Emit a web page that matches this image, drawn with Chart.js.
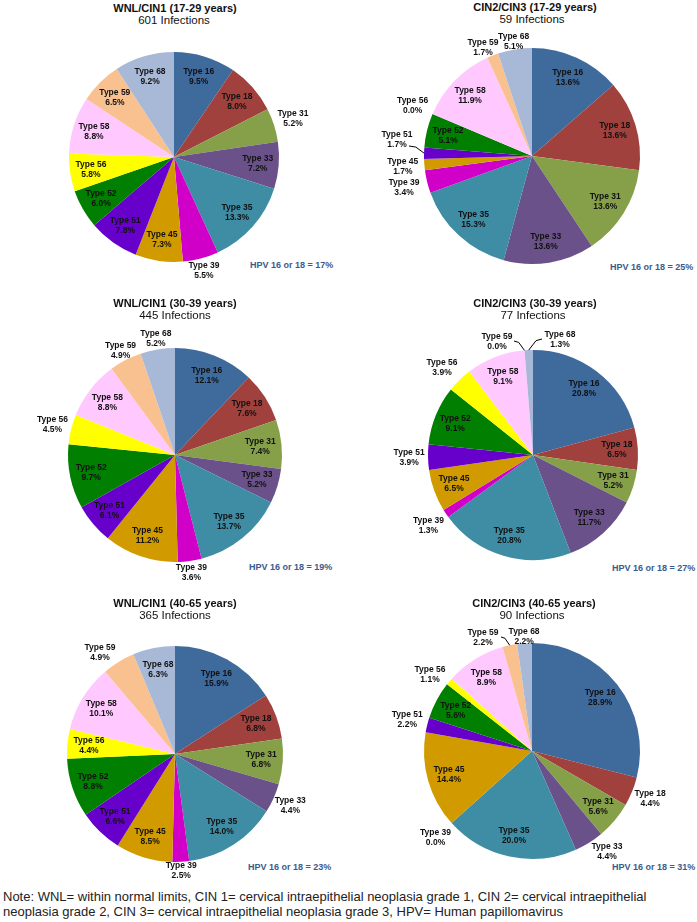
<!DOCTYPE html>
<html>
<head>
<meta charset="utf-8">
<script src="https://cdn.jsdelivr.net/npm/chart.js@4.4.1/dist/chart.umd.min.js"></script>
<style>
  html, body { margin: 0; padding: 0; background: #fff; }
  body { width: 697px; height: 922px; position: relative; overflow: hidden; font-family: "Liberation Sans", Arial, sans-serif; }
  canvas { position: absolute; }
  .ttl { position: absolute; width: 300px; text-align: center; font-weight: bold; font-size: 11px; color: #111; line-height: 12px; }
  .sub { position: absolute; width: 300px; text-align: center; font-size: 11.5px; color: #111; line-height: 12px; }
  .hpv { position: absolute; font-weight: bold; font-size: 9px; color: #3A5B8E; line-height: 10px; white-space: nowrap; }
  .note { position: absolute; left: 3px; top: 889px; font-size: 13px; line-height: 15px; color: #222; white-space: nowrap; }
</style>
</head>
<body>
<div class="note">Note: WNL= within normal limits, CIN 1= cervical intraepithelial neoplasia grade 1, CIN 2= cervical intraepithelial<br>neoplasia grade 2, CIN 3= cervical intraepithelial neoplasia grade 3, HPV= Human papillomavirus</div>
<script>
// --- data ---
const types = ["Type 16", "Type 18", "Type 31", "Type 33", "Type 35", "Type 39", "Type 45",
  "Type 51", "Type 52", "Type 56", "Type 58", "Type 59", "Type 68"];
const colors = ["#3F6A9C", "#A0413E", "#86A04A", "#6B5189", "#3E8DA4", "#D000C8", "#D19B00",
  "#6800CC", "#007F00", "#FFFF00", "#FFC9FF", "#F9C090", "#A8B9D8"];

const titles = ["WNL/CIN1 (17-29 years)", "CIN2/CIN3 (17-29 years)",
  "WNL/CIN1 (30-39 years)", "CIN2/CIN3 (30-39 years)",
  "WNL/CIN1 (40-65 years)", "CIN2/CIN3 (40-65 years)"];
const infections = [601, 59, 445, 77, 365, 90];
const hpv1618 = [17, 25, 19, 27, 23, 31];

const wnl1729 = [9.5, 8.0, 5.2, 7.2, 13.3, 5.5, 7.3, 7.8, 6.0, 5.8, 8.8, 6.5, 9.2];
const cin1729 = [13.6, 13.6, 13.6, 13.6, 15.3, 3.4, 1.7, 1.7, 5.1, 0.0, 11.9, 1.7, 5.1];
const wnl3039 = [12.1, 7.6, 7.4, 5.2, 13.7, 3.6, 11.2, 6.1, 9.7, 4.5, 8.8, 4.9, 5.2];
const cin3039 = [20.8, 6.5, 5.2, 11.7, 20.8, 1.3, 6.5, 3.9, 9.1, 3.9, 9.1, 0.0, 1.3];
const wnl4065 = [15.9, 6.8, 6.8, 4.4, 14.0, 2.5, 8.5, 6.6, 8.8, 4.4, 10.1, 4.9, 6.3];
const cin4065 = [28.9, 4.4, 5.6, 4.4, 20.0, 0.0, 14.4, 2.2, 5.6, 1.1, 8.9, 2.2, 2.2];
const series = [wnl1729, cin1729, wnl3039, cin3039, wnl4065, cin4065];

// --- layout (pie centre, radius, title line, outside labels) ---
const layout = [
  { cx: 174, cy: 157, r: 105, ty: 2, tx: 175, hx: 250, hy: 260, out: { 2: 1.19, 5: 1.12 } },
  { cx: 532, cy: 156, r: 108, ty: 1, tx: 535, hx: 610, hy: 262, out: { 5: 1.22, 6: 1.2, 7: 1.25, 9: 1.2, 11: 1.08, 12: 1.07 },
    at: { 7: [-135, -16], 11: [-49, -108] }, lead: { 7: [12, 6] } },
  { cx: 175, cy: 455, r: 107, ty: 297, tx: 175, hx: 249, hy: 562, out: { 5: 1.11, 9: 1.18, 11: 1.1, 12: 1.1 } },
  { cx: 533, cy: 455, r: 105, ty: 297, tx: 535, hx: 612, hy: 563, out: { 5: 1.2, 7: 1.18, 9: 1.24, 11: 1, 12: 1 },
    at: { 9: [-91, -87], 11: [-36, -113], 12: [27, -115] }, lead: { 11: [17, -1], 12: [-18, -1] } },
  { cx: 175, cy: 754, r: 108, ty: 597, tx: 175, hx: 248, hy: 862, out: { 3: 1.17, 5: 1.08, 11: 1.1 },
    at: { 11: [-75, -101] } },
  { cx: 532, cy: 751, r: 108, ty: 597, tx: 534, hx: 612, hy: 862, out: { 1: 1.18, 3: 1.12, 5: 1.2, 7: 1.19, 9: 1.23, 11: 1, 12: 1.06 },
    at: { 3: [75, 101], 9: [-102, -76], 11: [-49, -113] }, lead: { 11: [18, -1] } }
];

const W = 330, H = 300;

// labels drawn after the slices: "Type xx" + percentage
const sliceLabels = {
  id: "sliceLabels",
  afterDatasetsDraw(chart, args, opts) {
    const ctx = chart.ctx;
    const lay = opts.lay;
    const vals = chart.data.datasets[0].data;
    const meta = chart.getDatasetMeta(0);
    ctx.save();
    ctx.font = "bold 8.5px 'Liberation Sans', Arial, sans-serif";
    ctx.fillStyle = "#111";
    ctx.textAlign = "center";
    ctx.textBaseline = "middle";
    meta.data.forEach((arc, i) => {
      const mid = (arc.startAngle + arc.endAngle) / 2;
      const f = lay.out && lay.out[i] ? lay.out[i] : 0.8;
      let x = arc.x + Math.cos(mid) * arc.outerRadius * f;
      let y = arc.y + Math.sin(mid) * arc.outerRadius * f;
      if (lay.at && lay.at[i]) {
        x = arc.x + lay.at[i][0];
        y = arc.y + lay.at[i][1];
      }
      if (lay.lead && lay.lead[i]) {
        const ex = arc.x + Math.cos(mid) * arc.outerRadius;
        const ey = arc.y + Math.sin(mid) * arc.outerRadius;
        const lx = x + lay.lead[i][0], ly = y + lay.lead[i][1];
        ctx.strokeStyle = "#000";
        ctx.lineWidth = 1;
        ctx.beginPath();
        ctx.moveTo(lx, ly);
        ctx.lineTo(lx + (ex - lx) * 0.45, ly + (ey - ly) * 0.15);
        ctx.lineTo(ex, ey);
        ctx.stroke();
      }
      ctx.fillText(chart.data.labels[i], x, y - 5);
      ctx.fillText(vals[i].toFixed(1) + "%", x, y + 5);
    });
    ctx.restore();
  }
};

layout.forEach((lay, p) => {
  const t = document.createElement("div");
  t.className = "ttl";
  t.style.left = (lay.tx - 150) + "px";
  t.style.top = lay.ty + "px";
  t.textContent = titles[p];
  document.body.appendChild(t);

  const s = document.createElement("div");
  s.className = "sub";
  s.style.left = (lay.cx - 150) + "px";
  s.style.top = (lay.ty + 12) + "px";
  s.textContent = infections[p] + " Infections";
  document.body.appendChild(s);

  const h = document.createElement("div");
  h.className = "hpv";
  h.style.left = lay.hx + "px";
  h.style.top = lay.hy + "px";
  h.textContent = "HPV 16 or 18 = " + hpv1618[p] + "%";
  document.body.appendChild(h);

  const c = document.createElement("canvas");
  c.width = W;
  c.height = H;
  c.style.left = (lay.cx - W / 2) + "px";
  c.style.top = (lay.cy - H / 2) + "px";
  document.body.appendChild(c);

  const padX = W / 2 - lay.r, padY = H / 2 - lay.r;
  new Chart(c, {
    type: "pie",
    data: {
      labels: types,
      datasets: [{ data: series[p], backgroundColor: colors, borderWidth: 0 }]
    },
    options: {
      responsive: false,
      animation: false,
      layout: { padding: { left: padX, right: padX, top: padY, bottom: padY } },
      plugins: {
        legend: { display: false },
        tooltip: { enabled: false },
        sliceLabels: { lay: lay }
      }
    },
    plugins: [sliceLabels]
  });
});
</script>
</body>
</html>
